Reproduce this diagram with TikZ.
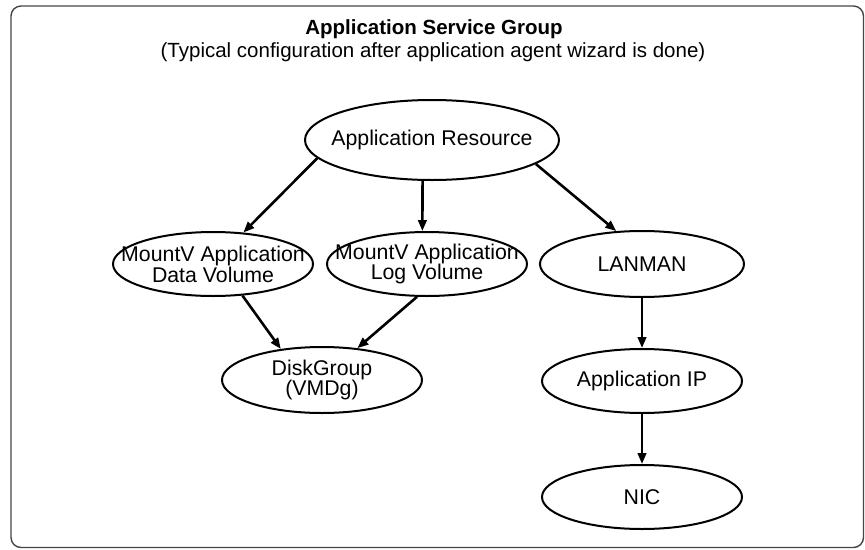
\documentclass[tikz,border=0pt]{standalone}
\usepackage{fontspec}
\setmainfont{Liberation Sans}
\usetikzlibrary{arrows.meta, positioning, shapes.geometric}
\definecolor{framegray}{RGB}{70,70,70}

\begin{document}
\begin{tikzpicture}[
    x=1pt, y=-1pt,
    node distance=50pt,
    res/.style={draw, ellipse, line width=2pt, inner xsep=-25pt, inner ysep=0pt, align=center, minimum width=200pt, minimum height=64pt, font=\fontsize{21.3}{19}\selectfont},
    arr/.style={-{Triangle[length=11pt, width=8.5pt]}, line width=2.6pt}
]
\useasboundingbox (0,0) rectangle (865,549);
\draw[framegray, line width=1.4pt, rounded corners=10pt] (11,6) rectangle (863.5,547.5);

\node[anchor=base, font=\bfseries\fontsize{20.5}{23}\selectfont] (title) at (434,34) {Application Service Group};
\node[anchor=base, font=\fontsize{20.5}{23}\selectfont] (subtitle) at (433,57) {(Typical configuration after application agent wizard is done)};

\node[res, minimum width=254pt, minimum height=80pt] (appres) at (432,140) {Application Resource};
\node[res] (datavol) at (213,264) {MountV Application\\Data Volume};
\node[res] (logvol) at (427,264) {MountV Application\\Log Volume};
\node[res, minimum height=66pt] (diskgrp) at (322,380) {DiskGroup\\(VMDg)};
\node[res, minimum width=204pt, minimum height=66pt] (lanman) at (642,264) {LANMAN};
\node[res, below=of lanman] (appip) {Application IP};
\node[res, below=of appip] (nic) {NIC};

\draw[arr] (appres.189) -- (datavol.46);
\draw[arr] (appres.257) -- (logvol.98);
\draw[arr] (appres.347) -- (lanman.128);
\draw[arr] (datavol.313) -- (diskgrp.143);
\draw[arr] (logvol.253) -- (diskgrp.42);
\draw[arr] (lanman) -- (appip);
\draw[arr] (appip) -- (nic);
\end{tikzpicture}
\end{document}
